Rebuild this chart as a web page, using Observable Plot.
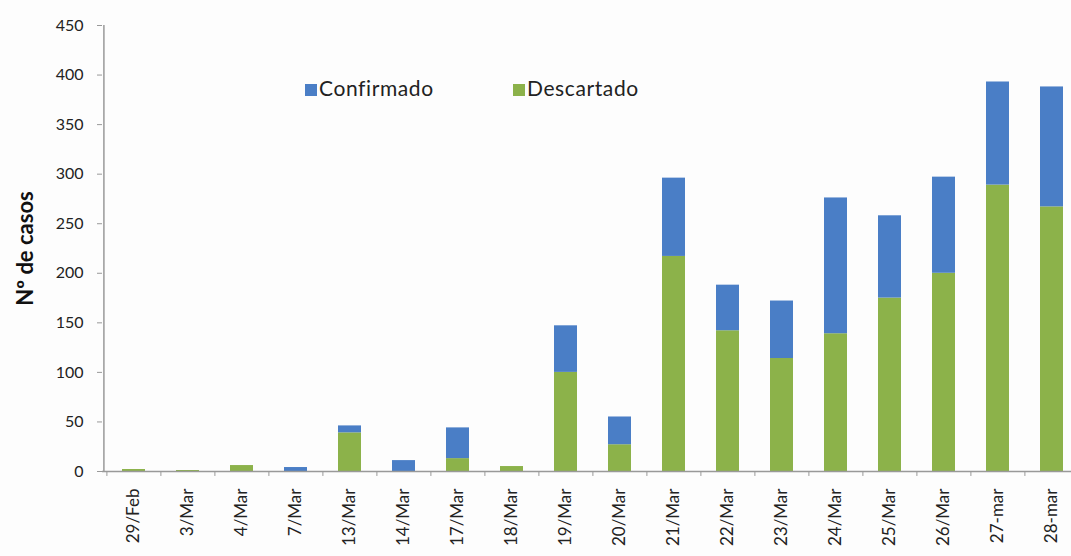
<!DOCTYPE html>
<html>
<head>
<meta charset="utf-8">
<script src="https://cdn.jsdelivr.net/npm/d3@7"></script>
<script src="https://cdn.jsdelivr.net/npm/@observablehq/plot@0.6"></script>
<style>
  html, body { margin: 0; padding: 0; background: #fdfdfd; overflow: hidden; }
  #wrap { position: relative; width: 1071px; height: 556px; }
  .legend { position: absolute; top: 75px; left: 305px; font: 21px Lato, "Open Sans", sans-serif; letter-spacing: 0.6px; color: #222; }
  .legend > div { position: absolute; white-space: nowrap; top: 0; }
  .legend span.sw { display: inline-block; width: 12px; height: 12px; margin-right: 2px; vertical-align: 0px; }
</style>
</head>
<body>
<div id="wrap"></div>
<script>
const dates = ["29/Feb","3/Mar","4/Mar","7/Mar","13/Mar","14/Mar","17/Mar","18/Mar","19/Mar","20/Mar","21/Mar","22/Mar","23/Mar","24/Mar","25/Mar","26/Mar","27-mar","28-mar"];
const descartado = [2, 1, 6, 0, 39, 0, 13, 5, 100, 27, 217, 142, 114, 139, 175, 200, 289, 267];
const confirmado = [0, 0, 0, 4, 7, 11, 31, 0, 47, 28, 79, 46, 58, 137, 83, 97, 104, 121];
const series = ["Descartado", "Confirmado"];
const colors = ["#8cb24a", "#4a7ec6"];
const yTicks = [0, 50, 100, 150, 200, 250, 300, 350, 400, 450];

const rows = [];
dates.forEach((d, i) => {
  rows.push({date: d, serie: series[0], value: descartado[i]});
  rows.push({date: d, serie: series[1], value: confirmado[i]});
});

const step = (1080.6 - 105) / dates.length;

const chart = Plot.plot({
  width: 1071,
  height: 556,
  marginLeft: 102,
  marginRight: 0,
  marginTop: 25,
  marginBottom: 85,
  style: {fontFamily: "Lato, 'Open Sans', sans-serif", fontSize: "16px", color: "#222", background: "transparent"},
  x: {domain: dates, range: [105, 1080.6], paddingInner: 0.57, paddingOuter: 0.285, label: null},
  y: {domain: [0, 450], label: null},
  color: {domain: series, range: colors},
  marks: [
    Plot.barY(rows, Plot.stackY({x: "date", y: "value", fill: "serie", order: series})),
    Plot.ruleY([0], {stroke: "#999", strokeWidth: 1.5}),
    Plot.ruleX(dates, {x: d => d, dx: -step / 2, y1: 0, y2: -5, stroke: "#999", clip: false}),
    Plot.ruleX([dates[0]], {x: d => d, dx: -step / 2 - 3, y1: 0, y2: 450, stroke: "#999", strokeWidth: 1.5}),
    Plot.axisX({tickSize: 0, tickPadding: 17, tickRotate: -90, fontSize: 17, fill: "#222"}),
    Plot.axisY({ticks: yTicks, tickSize: 5, tickPadding: 14, stroke: "#999", fontSize: 16, fill: "#222"}),
    Plot.text(["Nº de casos"], {frameAnchor: "left", textAnchor: "middle", dx: -77, rotate: -90, fontWeight: "bold", fontSize: 22, fill: "#111"})
  ]
});

const wrap = document.getElementById("wrap");
wrap.appendChild(chart);
const legend = document.createElement("div");
legend.className = "legend";
[series[1], series[0]].forEach((s, k) => {
  const item = document.createElement("div");
  item.style.left = (k * 208) + "px";
  const sw = document.createElement("span");
  sw.className = "sw";
  sw.style.background = colors[series.indexOf(s)];
  item.appendChild(sw);
  item.appendChild(document.createTextNode(s));
  legend.appendChild(item);
});
wrap.appendChild(legend);
</script>
</body>
</html>
